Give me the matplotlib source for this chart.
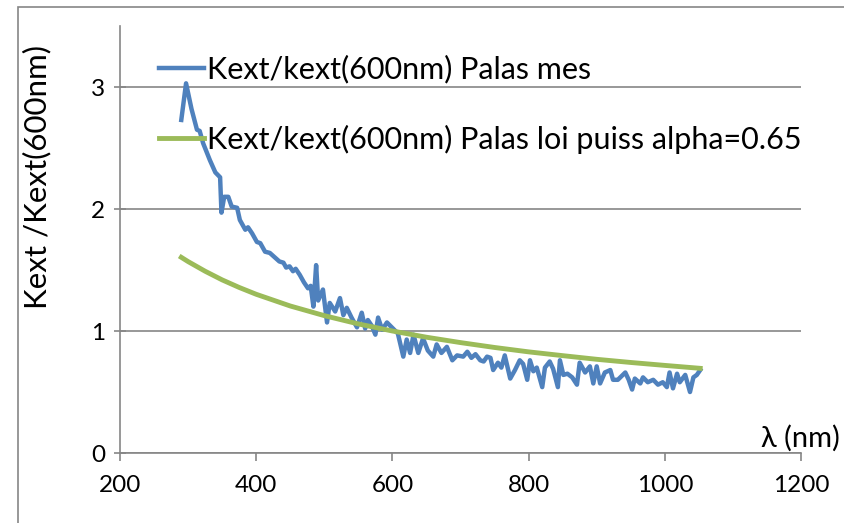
import numpy as np
import matplotlib
matplotlib.use("Agg")
import matplotlib.pyplot as plt
from matplotlib.patches import Rectangle

plt.rcParams['font.family'] = ['Lato', 'DejaVu Sans']

# measured extinction, normalised at 600 nm
wl_mes = [290, 297, 305, 313, 317, 322, 327, 332, 340, 347, 349, 353, 359, 364,
          372, 376, 384, 388, 394, 401, 406, 413, 420, 428, 434, 440, 444, 449,
          454, 458, 464, 470, 476, 480, 484, 488, 491, 498, 504, 508, 516, 523,
          528, 533, 540, 548, 555, 560, 564, 570, 575, 579, 585, 592, 601, 608,
          616, 621, 626, 631, 638, 645, 652, 660, 665, 672, 680, 688, 695, 704,
          710, 716, 722, 729, 734, 739, 744, 748, 755, 760, 765, 773, 780, 787,
          792, 798, 802, 807, 812, 820, 824, 831, 836, 843, 846, 851, 857, 864,
          871, 875, 883, 890, 895, 900, 905, 912, 920, 924, 931, 942, 947, 952,
          956, 964, 968, 975, 983, 990, 997, 1003, 1007, 1012, 1018, 1022, 1030,
          1037, 1042, 1047, 1052]
k_mes = [2.73, 3.03, 2.82, 2.65, 2.64, 2.54, 2.47, 2.40, 2.30, 2.26, 1.97, 2.10,
         2.10, 2.02, 2.01, 1.91, 1.83, 1.85, 1.80, 1.73, 1.72, 1.65, 1.64, 1.60,
         1.57, 1.56, 1.52, 1.53, 1.49, 1.51, 1.46, 1.40, 1.35, 1.37, 1.20, 1.54,
         1.25, 1.34, 1.07, 1.23, 1.16, 1.27, 1.13, 1.19, 1.11, 1.03, 1.15, 1.02,
         1.09, 1.04, 0.97, 1.11, 1.01, 1.07, 1.02, 0.98, 0.79, 0.93, 0.82, 0.97,
         0.82, 0.94, 0.84, 0.79, 0.89, 0.82, 0.87, 0.76, 0.80, 0.79, 0.83, 0.78,
         0.81, 0.76, 0.75, 0.79, 0.78, 0.68, 0.74, 0.70, 0.80, 0.61, 0.68, 0.76,
         0.73, 0.60, 0.76, 0.67, 0.70, 0.54, 0.70, 0.75, 0.69, 0.54, 0.76, 0.64,
         0.65, 0.62, 0.56, 0.74, 0.66, 0.71, 0.57, 0.71, 0.57, 0.66, 0.68, 0.60,
         0.60, 0.66, 0.60, 0.52, 0.61, 0.57, 0.62, 0.58, 0.60, 0.56, 0.58, 0.54,
         0.66, 0.53, 0.65, 0.58, 0.64, 0.50, 0.62, 0.64, 0.68]

# power-law fit, alpha = 0.65
wl_fit = [290, 300, 325, 350, 375, 400, 450, 500, 550, 600, 650, 700, 750, 800,
          850, 900, 950, 1000, 1052]
k_fit = [1.604, 1.569, 1.490, 1.419, 1.357, 1.301, 1.205, 1.126, 1.058, 1.000,
         0.949, 0.905, 0.865, 0.829, 0.798, 0.768, 0.742, 0.718, 0.694]

label_mes = "Kext/kext(600nm) Palas mes"
label_fit = "Kext/kext(600nm) Palas loi puiss alpha=0.65"

fig = plt.figure(figsize=(8.45, 5.23), dpi=100)
ax = fig.add_axes([120 / 845, 1 - 453 / 523, 681 / 845, 427 / 523])

grey = "#868686"
ax.plot(wl_mes, k_mes, color="#4F81BD", lw=3.2, label=label_mes, solid_joinstyle="round")
ax.plot(wl_fit, k_fit, color="#9BBB59", lw=3.5, label=label_fit)

ax.set_xlim(200, 1200)
ax.set_ylim(0, 3.5)
ax.set_xticks([200, 400, 600, 800, 1000, 1200])
ax.set_yticks([0, 1, 2, 3])
ax.yaxis.grid(True, color=grey, lw=1.2)
ax.set_axisbelow(True)
for s in ["top", "right"]:
    ax.spines[s].set_visible(False)
for s in ["left", "bottom"]:
    ax.spines[s].set_color(grey)
    ax.spines[s].set_linewidth(1.2)
ax.tick_params(axis="y", direction="inout", length=9, width=1.2, color=grey,
               labelsize=17.5, pad=6)
ax.tick_params(axis="x", direction="out", length=6, width=1.2, color=grey,
               labelsize=17.5, pad=10)

ax.set_ylabel("Kext /Kext(600nm)", fontsize=22.5)
ax.yaxis.set_label_coords(-0.100, 0.646)
fig.text(840 / 845, 1 - 438 / 523, "λ (nm)", fontsize=21, ha="right", va="center")

ax.legend(loc="upper left", bbox_to_anchor=(159 / 845, 1 - 55 / 523),
          bbox_transform=fig.transFigure, frameon=False, fontsize=22,
          handlelength=1.47, handletextpad=0.1, labelspacing=1.35,
          borderpad=0, borderaxespad=0)

# outer chart frame
fig.patches.append(Rectangle((18 / 845, -0.1), 1.2, 1.1 - 7 / 523,
                             transform=fig.transFigure, fill=False,
                             edgecolor=grey, lw=1.2))

fig.savefig("out.png", dpi=100)
